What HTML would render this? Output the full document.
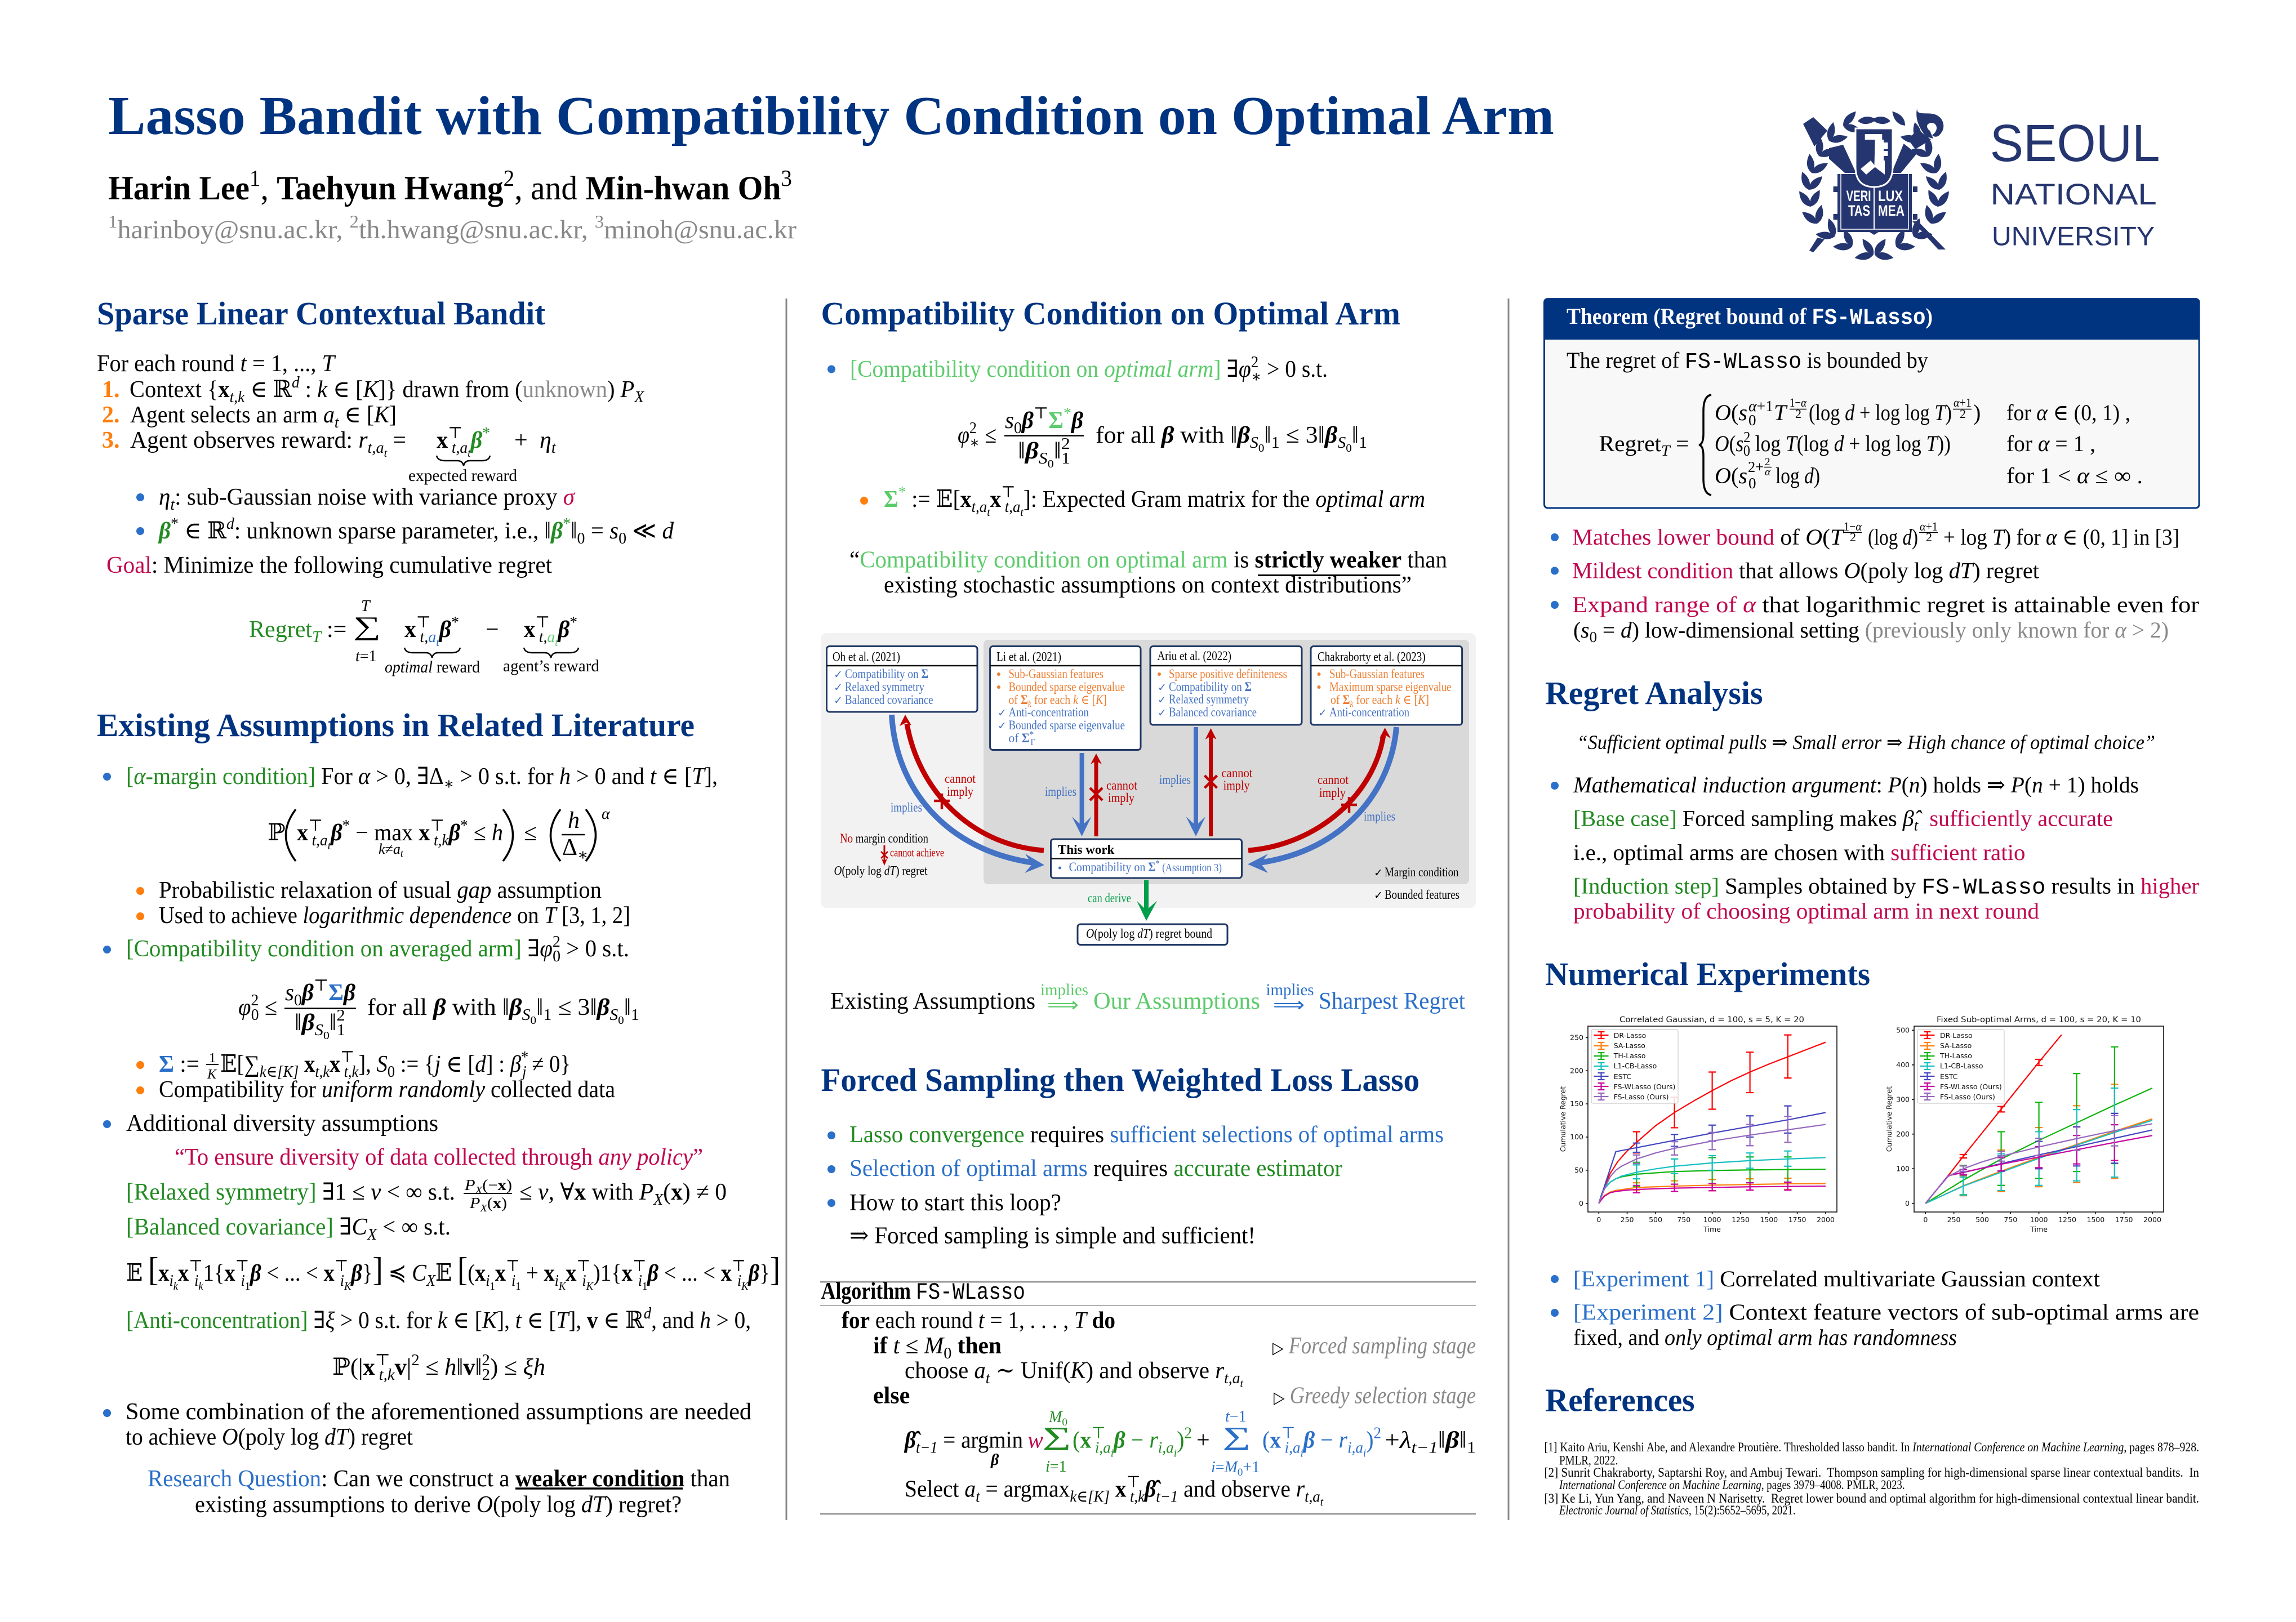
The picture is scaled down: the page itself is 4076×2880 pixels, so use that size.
<!DOCTYPE html>
<html lang="en"><head><meta charset="utf-8"><title>Lasso Bandit with Compatibility Condition on Optimal Arm</title>
<style>
html,body{margin:0;padding:0;background:#fff}
svg{display:block}
text{font-family:"Liberation Serif","DejaVu Serif",serif;font-size:42px;fill:#000;white-space:pre}
.i{font-style:italic}.b{font-weight:bold}.bi{font-weight:bold;font-style:italic}
.m{font-family:"Liberation Mono",monospace}
.mb{font-family:"Liberation Mono",monospace;font-weight:bold}
.sb{font-size:.68em;baseline-shift:-.3em}
.sp{font-size:.68em;baseline-shift:.6em}
.ss{font-size:.48em;baseline-shift:-.8em}
.h{font-weight:bold;fill:#003380;font-size:58px}
.g{fill:#228B22}.lg{fill:#5CCB6B}.bl{fill:#2A6FC9}.o{fill:#FF7F0E}.r{fill:#C0094F}.gy{fill:#888}
.dt{font-size:23px}.db{fill:#4472C4}.do{fill:#ED7D31}.dr{fill:#C00000}.dg{fill:#009E4A}
.ck{font-family:"DejaVu Sans",sans-serif;font-size:19px}
.box{fill:#fff;stroke:#1F3864;stroke-width:3}
.div{stroke:#111;stroke-width:2.5}
.pl path{vector-effect:non-scaling-stroke;fill:none;stroke-width:2.2}
.pt{font-family:"DejaVu Sans",sans-serif;font-size:12.5px;fill:#111}
.pT{font-family:"DejaVu Sans",sans-serif;font-size:14px;fill:#111}
.ax{fill:none;stroke:#111;stroke-width:1.6}
.ref{font-size:23px}
.t40{font-size:40px}
.fr{font-size:22px}
</style></head><body>
<svg width="4076" height="2880" viewBox="0 0 4076 2880" xmlns="http://www.w3.org/2000/svg">
<rect width="4076" height="2880" fill="#fff"/>

<!-- header -->
<text x="192" y="238" class="b" style="font-size:97px;fill:#003380" textLength="2567" lengthAdjust="spacingAndGlyphs">Lasso Bandit with Compatibility Condition on Optimal Arm</text>
<text x="192" y="354" style="font-size:60px" textLength="1214" lengthAdjust="spacingAndGlyphs"><tspan class="b">Harin Lee</tspan><tspan class="sp">1</tspan>, <tspan class="b">Taehyun Hwang</tspan><tspan class="sp">2</tspan>, and <tspan class="b">Min-hwan Oh</tspan><tspan class="sp">3</tspan></text>
<text x="192" y="423" class="gy" style="font-size:47px" textLength="1222" lengthAdjust="spacingAndGlyphs"><tspan class="sp">1</tspan>harinboy@snu.ac.kr, <tspan class="sp">2</tspan>th.hwang@snu.ac.kr, <tspan class="sp">3</tspan>minoh@snu.ac.kr</text>

<!-- logo -->
<g fill="#25356F">
<g>
<path d="M3201 220L3219 208L3244 232L3221 260Z"/>
<path d="M3247 263L3272 257L3295 307L3275 307L3247 282Z"/>
<path d="M3395 393H3405L3454 443H3441Z"/>
<path d="M3379.6 255L3402.6 273L3374.5 307H3358Z"/>
<path d="M3226.5 422L3239 425L3219 448L3212 445Z"/>
<path d="M3405 230L3428 248L3400 265L3387 247Z"/>
<path d="M3404 190C3400 205 3415 200 3430 202C3450 205 3455 225 3446 236C3442 243 3435 245 3430 240C3442 232 3440 218 3428 218C3418 220 3420 228 3426 232L3432 246L3420 243C3408 230 3398 210 3404 190Z"/>
</g>
<g>
<path d="M0 0Q14 -13 34 0Q14 13 0 0Z" transform="translate(3326 452) rotate(-190)"/><path d="M0 0Q14 -13 34 0Q14 13 0 0Z" transform="translate(3326 452) rotate(-125)"/>
<path d="M0 0Q14 -13 34 0Q14 13 0 0Z" transform="translate(3288 438) rotate(-180)"/><path d="M0 0Q14 -13 34 0Q14 13 0 0Z" transform="translate(3288 438) rotate(-115)"/>
<path d="M0 0Q14 -13 34 0Q14 13 0 0Z" transform="translate(3257 420) rotate(-173)"/><path d="M0 0Q14 -13 34 0Q14 13 0 0Z" transform="translate(3257 420) rotate(-108)"/>
<path d="M0 0Q14 -13 34 0Q14 13 0 0Z" transform="translate(3226 397) rotate(-142)"/><path d="M0 0Q14 -13 34 0Q14 13 0 0Z" transform="translate(3226 397) rotate(-77)"/>
<path d="M0 0Q14 -13 34 0Q14 13 0 0Z" transform="translate(3214 367) rotate(-126)"/><path d="M0 0Q14 -13 34 0Q14 13 0 0Z" transform="translate(3214 367) rotate(-61)"/>
<path d="M0 0Q14 -13 34 0Q14 13 0 0Z" transform="translate(3211 337) rotate(-110)"/><path d="M0 0Q14 -13 34 0Q14 13 0 0Z" transform="translate(3211 337) rotate(-45)"/>
<path d="M0 0Q14 -13 34 0Q14 13 0 0Z" transform="translate(3216 307) rotate(-96)"/><path d="M0 0Q14 -13 34 0Q14 13 0 0Z" transform="translate(3216 307) rotate(-31)"/>
<path d="M0 0Q14 -13 34 0Q14 13 0 0Z" transform="translate(3229 277) rotate(-86)"/><path d="M0 0Q14 -13 34 0Q14 13 0 0Z" transform="translate(3229 277) rotate(-21)"/>
<path d="M0 0Q14 -13 34 0Q14 13 0 0Z" transform="translate(3247 250) rotate(-77)"/><path d="M0 0Q14 -13 34 0Q14 13 0 0Z" transform="translate(3247 250) rotate(-12)"/>
<path d="M0 0Q14 -13 34 0Q14 13 0 0Z" transform="translate(3272 223) rotate(-48)"/><path d="M0 0Q14 -13 34 0Q14 13 0 0Z" transform="translate(3272 223) rotate(17)"/>
<path d="M0 0Q14 -13 34 0Q14 13 0 0Z" transform="translate(3298 215) rotate(-5)"/>
</g>
<g transform="translate(6654 0) scale(-1 1)">
<path d="M0 0Q14 -13 34 0Q14 13 0 0Z" transform="translate(3326 452) rotate(-190)"/><path d="M0 0Q14 -13 34 0Q14 13 0 0Z" transform="translate(3326 452) rotate(-125)"/>
<path d="M0 0Q14 -13 34 0Q14 13 0 0Z" transform="translate(3288 438) rotate(-180)"/><path d="M0 0Q14 -13 34 0Q14 13 0 0Z" transform="translate(3288 438) rotate(-115)"/>
<path d="M0 0Q14 -13 34 0Q14 13 0 0Z" transform="translate(3257 420) rotate(-173)"/><path d="M0 0Q14 -13 34 0Q14 13 0 0Z" transform="translate(3257 420) rotate(-108)"/>
<path d="M0 0Q14 -13 34 0Q14 13 0 0Z" transform="translate(3226 397) rotate(-142)"/><path d="M0 0Q14 -13 34 0Q14 13 0 0Z" transform="translate(3226 397) rotate(-77)"/>
<path d="M0 0Q14 -13 34 0Q14 13 0 0Z" transform="translate(3214 367) rotate(-126)"/><path d="M0 0Q14 -13 34 0Q14 13 0 0Z" transform="translate(3214 367) rotate(-61)"/>
<path d="M0 0Q14 -13 34 0Q14 13 0 0Z" transform="translate(3211 337) rotate(-110)"/><path d="M0 0Q14 -13 34 0Q14 13 0 0Z" transform="translate(3211 337) rotate(-45)"/>
<path d="M0 0Q14 -13 34 0Q14 13 0 0Z" transform="translate(3216 307) rotate(-96)"/><path d="M0 0Q14 -13 34 0Q14 13 0 0Z" transform="translate(3216 307) rotate(-31)"/>
<path d="M0 0Q14 -13 34 0Q14 13 0 0Z" transform="translate(3229 277) rotate(-86)"/><path d="M0 0Q14 -13 34 0Q14 13 0 0Z" transform="translate(3229 277) rotate(-21)"/>
<path d="M0 0Q14 -13 34 0Q14 13 0 0Z" transform="translate(3247 250) rotate(-77)"/><path d="M0 0Q14 -13 34 0Q14 13 0 0Z" transform="translate(3247 250) rotate(-12)"/>
<path d="M0 0Q14 -13 34 0Q14 13 0 0Z" transform="translate(3272 223) rotate(-48)"/>
<path d="M0 0Q14 -13 34 0Q14 13 0 0Z" transform="translate(3298 215) rotate(-5)"/>
</g>
<rect x="3254.6" y="331" width="8" height="10"/><rect x="3396" y="331" width="8" height="10"/><rect x="3254.6" y="380" width="8" height="10"/><rect x="3396" y="380" width="8" height="10"/>
<path d="M3262 309H3394V412H3335L3327 417L3319 412H3262Z"/>
<path d="M3268 309V407H3388V309" fill="none" stroke="#fff" stroke-width="1.5"/>
<path d="M3327 332V407" fill="none" stroke="#fff" stroke-width="2"/>
<path d="M3294 228H3360V296Q3360 332 3327 332Q3294 332 3294 296Z" stroke="#fff" stroke-width="3"/>
<path d="M3310.7 238H3341.3V248H3344V253H3351.5V265H3344V268H3351.5V277H3344V285H3346V310L3328.6 296.7L3313 310L3303 300L3321 285L3327.5 293L3328.6 248H3310.7Z" fill="#fff"/>
</g>
<text x="3277.5" y="357" class="b" style="font-size:27px;fill:#fff;font-family:'Liberation Sans',sans-serif" textLength="44" lengthAdjust="spacingAndGlyphs">VERI</text>
<text x="3334" y="357" class="b" style="font-size:27px;fill:#fff;font-family:'Liberation Sans',sans-serif" textLength="44" lengthAdjust="spacingAndGlyphs">LUX</text>
<text x="3281" y="383" class="b" style="font-size:27px;fill:#fff;font-family:'Liberation Sans',sans-serif" textLength="39" lengthAdjust="spacingAndGlyphs">TAS</text>
<text x="3334" y="383" class="b" style="font-size:27px;fill:#fff;font-family:'Liberation Sans',sans-serif" textLength="47" lengthAdjust="spacingAndGlyphs">MEA</text>
<text x="3532.6" y="286" style="font-family:'Liberation Sans',sans-serif;font-size:93px;fill:#25356F" textLength="302" lengthAdjust="spacingAndGlyphs">SEOUL</text>
<text x="3533.7" y="363" style="font-family:'Liberation Sans',sans-serif;font-size:53px;fill:#25356F" textLength="295" lengthAdjust="spacingAndGlyphs">NATIONAL</text>
<text x="3536" y="435.6" style="font-family:'Liberation Sans',sans-serif;font-size:47px;fill:#25356F" textLength="289" lengthAdjust="spacingAndGlyphs">UNIVERSITY</text>

<!-- separators -->
<path d="M1396 530V2699M2678 530V2699" stroke="#8a8a8a" stroke-width="3"/>

<!-- LEFT COLUMN -->
<text x="172" y="576" class="h" textLength="796" lengthAdjust="spacingAndGlyphs">Sparse Linear Contextual Bandit</text>
<text x="172" y="659" textLength="422" lengthAdjust="spacingAndGlyphs">For each round <tspan class="i">t</tspan> = 1, ..., <tspan class="i">T</tspan></text>
<text x="181" y="705" class="b o">1.</text>
<text x="230" y="705" textLength="913" lengthAdjust="spacingAndGlyphs">Context {<tspan class="b">x</tspan><tspan class="sb i">t,k</tspan> ∈ ℝ<tspan class="sp i">d</tspan> : <tspan class="i">k</tspan> ∈ [<tspan class="i">K</tspan>]} drawn from (<tspan class="gy">unknown</tspan>) <tspan class="i">P</tspan><tspan class="sb i">X</tspan></text>
<text x="181" y="750" class="b o">2.</text>
<text x="231" y="750" textLength="473" lengthAdjust="spacingAndGlyphs">Agent selects an arm <tspan class="i">a</tspan><tspan class="sb i">t</tspan> ∈ [<tspan class="i">K</tspan>]</text>
<text x="181" y="795" class="b o">3.</text>
<text x="231" y="795" textLength="490" lengthAdjust="spacingAndGlyphs">Agent observes reward: <tspan class="i">r</tspan><tspan class="sb i">t,a</tspan><tspan class="ss i">t</tspan> =</text>
<text x="775" y="795" textLength="95" lengthAdjust="spacingAndGlyphs"><tspan class="b">x</tspan><tspan class="sp">⊤</tspan><tspan class="sb i" dx="-20">t,a</tspan><tspan class="ss i">t</tspan><tspan class="bi g">β</tspan><tspan class="sp g">*</tspan></text>
<text x="913" y="795">+</text>
<text x="958" y="795"><tspan class="i">η</tspan><tspan class="sb i">t</tspan></text>
<path d="M775 809Q777 818 790 818L812 818Q821 818 823 827Q825 818 834 818L856 818Q868 818 870 809" fill="none" stroke="#000" stroke-width="2.5"/>
<text x="725" y="854" style="font-size:30px" textLength="193" lengthAdjust="spacingAndGlyphs">expected reward</text>
<circle cx="249" cy="883" r="7" fill="#2A6FC9"/>
<text x="282" y="896" textLength="738" lengthAdjust="spacingAndGlyphs"><tspan class="i">η</tspan><tspan class="sb i">t</tspan>: sub-Gaussian noise with variance proxy <tspan class="i r">σ</tspan></text>
<circle cx="249" cy="943" r="7" fill="#2A6FC9"/>
<text x="282" y="956" textLength="914" lengthAdjust="spacingAndGlyphs"><tspan class="bi g">β</tspan><tspan class="sp">*</tspan> ∈ ℝ<tspan class="sp i">d</tspan>: unknown sparse parameter, i.e., ‖<tspan class="bi g">β</tspan><tspan class="sp g">*</tspan>‖<tspan class="sb">0</tspan> = <tspan class="i">s</tspan><tspan class="sb">0</tspan> ≪ <tspan class="i">d</tspan></text>
<text x="189" y="1017" textLength="791" lengthAdjust="spacingAndGlyphs"><tspan class="r">Goal</tspan>: Minimize the following cumulative regret</text>
<text x="442" y="1131" textLength="128" lengthAdjust="spacingAndGlyphs"><tspan class="g">Regret</tspan><tspan class="sb i g">T</tspan></text>
<text x="580" y="1131">:=</text>
<text x="627" y="1127" style="font-size:47px" textLength="49" lengthAdjust="spacingAndGlyphs">∑</text>
<text x="641" y="1085" class="i" style="font-size:28px">T</text>
<text x="631" y="1174" style="font-size:28px"><tspan class="i">t</tspan>=1</text>
<text x="718" y="1131" textLength="97" lengthAdjust="spacingAndGlyphs"><tspan class="b">x</tspan><tspan class="sp">⊤</tspan><tspan class="sb i" dx="-20">t,</tspan><tspan class="sb i bl">a</tspan><tspan class="ss i bl">t</tspan><tspan class="bi">β</tspan><tspan class="sp">*</tspan></text>
<text x="862" y="1131">−</text>
<text x="930" y="1131" textLength="95" lengthAdjust="spacingAndGlyphs"><tspan class="b">x</tspan><tspan class="sp">⊤</tspan><tspan class="sb i" dx="-20">t,</tspan><tspan class="sb i lg">a</tspan><tspan class="ss i lg">t</tspan><tspan class="bi">β</tspan><tspan class="sp">*</tspan></text>
<path d="M718 1150Q720 1159 733 1159L756 1159Q765 1159 767 1168Q769 1159 778 1159L802 1159Q815 1159 817 1150M930 1150Q932 1159 945 1159L967 1159Q976 1159 978 1168Q980 1159 989 1159L1012 1159Q1025 1159 1027 1150" fill="none" stroke="#000" stroke-width="2.5"/>
<text x="683" y="1194" style="font-size:30px" textLength="169" lengthAdjust="spacingAndGlyphs"><tspan class="i">optimal</tspan> reward</text>
<text x="893" y="1192" style="font-size:30px" textLength="171" lengthAdjust="spacingAndGlyphs">agent’s reward</text>

<text x="172" y="1307" class="h" textLength="1061" lengthAdjust="spacingAndGlyphs">Existing Assumptions in Related Literature</text>
<circle cx="190" cy="1379" r="7" fill="#2A6FC9"/>
<text x="224" y="1392" textLength="1050" lengthAdjust="spacingAndGlyphs"><tspan class="g">[<tspan class="i">α</tspan>-margin condition]</tspan> For <tspan class="i">α</tspan> &gt; 0, ∃Δ<tspan class="sb">∗</tspan> &gt; 0 s.t. for <tspan class="i">h</tspan> &gt; 0 and <tspan class="i">t</tspan> ∈ [<tspan class="i">T</tspan>],</text>
<text x="475" y="1492">ℙ</text>
<path d="M525 1437Q490 1483 525 1529M893 1437Q928 1483 893 1529M995 1437Q960 1483 995 1529M1040 1437Q1075 1483 1040 1529" fill="none" stroke="#000" stroke-width="3.5"/>
<text x="527" y="1492" textLength="366" lengthAdjust="spacingAndGlyphs"><tspan class="b">x</tspan><tspan class="sp">⊤</tspan><tspan class="sb i" dx="-20">t,a</tspan><tspan class="ss i">t</tspan><tspan class="bi">β</tspan><tspan class="sp">*</tspan> − max <tspan class="b">x</tspan><tspan class="sp">⊤</tspan><tspan class="sb i" dx="-20">t,k</tspan><tspan class="bi">β</tspan><tspan class="sp">*</tspan> ≤ <tspan class="i">h</tspan></text>
<text x="672" y="1516" style="font-size:26px"><tspan class="i">k</tspan>≠<tspan class="i">a</tspan><tspan class="sb i">t</tspan></text>
<text x="930" y="1492">≤</text>
<text x="1008" y="1470" class="i">h</text>
<path d="M997 1482H1038" stroke="#000" stroke-width="2.5"/>
<text x="998" y="1518">Δ<tspan class="sb">∗</tspan></text>
<text x="1068" y="1454" class="i" style="font-size:28px">α</text>
<circle cx="249" cy="1582" r="7" fill="#FF7F0E"/>
<text x="282" y="1594" textLength="786" lengthAdjust="spacingAndGlyphs">Probabilistic relaxation of usual <tspan class="i">gap</tspan> assumption</text>
<circle cx="249" cy="1627" r="7" fill="#FF7F0E"/>
<text x="282" y="1639" textLength="837" lengthAdjust="spacingAndGlyphs">Used to achieve <tspan class="i">logarithmic dependence</tspan> on <tspan class="i">T</tspan> [3, 1, 2]</text>
<circle cx="190" cy="1686" r="7" fill="#2A6FC9"/>
<text x="224" y="1698" textLength="893" lengthAdjust="spacingAndGlyphs"><tspan class="g">[Compatibility condition on averaged arm]</tspan> ∃<tspan class="i">φ</tspan><tspan class="sp">2</tspan><tspan class="sb" dx="-14">0</tspan> &gt; 0 s.t.</text>
<text x="423" y="1802" textLength="69" lengthAdjust="spacingAndGlyphs"><tspan class="i">φ</tspan><tspan class="sp">2</tspan><tspan class="sb" dx="-14">0</tspan> ≤</text>
<text x="506" y="1776" textLength="125" lengthAdjust="spacingAndGlyphs"><tspan class="i">s</tspan><tspan class="sb">0</tspan><tspan class="bi">β</tspan><tspan class="sp">⊤</tspan><tspan class="b bl">Σ</tspan><tspan class="bi">β</tspan></text>
<path d="M505 1790.5H632" stroke="#000" stroke-width="2.5"/>
<text x="523" y="1829" textLength="90" lengthAdjust="spacingAndGlyphs">‖<tspan class="bi">β</tspan><tspan class="sb i">S</tspan><tspan class="ss">0</tspan>‖<tspan class="sp">2</tspan><tspan class="sb" dx="-14">1</tspan></text>
<text x="652" y="1802" textLength="483" lengthAdjust="spacingAndGlyphs">for all <tspan class="bi">β</tspan> with ‖<tspan class="bi">β</tspan><tspan class="sb i">S</tspan><tspan class="ss">0</tspan>‖<tspan class="sb">1</tspan> ≤ 3‖<tspan class="bi">β</tspan><tspan class="sb i">S</tspan><tspan class="ss">0</tspan>‖<tspan class="sb">1</tspan></text>
<circle cx="249" cy="1891" r="7" fill="#FF7F0E"/>
<text x="282" y="1903" textLength="72" lengthAdjust="spacingAndGlyphs"><tspan class="b bl">Σ</tspan> :=</text>
<text x="371" y="1886" style="font-size:24px">1</text>
<path d="M366 1890H388" stroke="#000" stroke-width="2"/>
<text x="368" y="1915" class="i" style="font-size:24px">K</text>
<text x="391" y="1903" textLength="622" lengthAdjust="spacingAndGlyphs">𝔼[∑<tspan class="sb i">k∈[K]</tspan> <tspan class="b">x</tspan><tspan class="sb i">t,k</tspan><tspan class="b">x</tspan><tspan class="sp">⊤</tspan><tspan class="sb i" dx="-20">t,k</tspan>], <tspan class="i">S</tspan><tspan class="sb">0</tspan> := {<tspan class="i">j</tspan> ∈ [<tspan class="i">d</tspan>] : <tspan class="i">β</tspan><tspan class="sp">*</tspan><tspan class="sb i" dx="-12">j</tspan> ≠ 0}</text>
<circle cx="249" cy="1936" r="7" fill="#FF7F0E"/>
<text x="282" y="1948" textLength="810" lengthAdjust="spacingAndGlyphs">Compatibility for <tspan class="i">uniform randomly</tspan> collected data</text>
<circle cx="190" cy="1996" r="7" fill="#2A6FC9"/>
<text x="224" y="2008" textLength="554" lengthAdjust="spacingAndGlyphs">Additional diversity assumptions</text>
<text x="310" y="2068" class="r" textLength="938" lengthAdjust="spacingAndGlyphs">“To ensure diversity of data collected through <tspan class="i">any policy</tspan>”</text>
<text x="224" y="2130" textLength="584" lengthAdjust="spacingAndGlyphs"><tspan class="g">[Relaxed symmetry]</tspan> ∃1 ≤ <tspan class="i">ν</tspan> &lt; ∞ s.t.</text>
<text x="825" y="2113" style="font-size:27px" textLength="84" lengthAdjust="spacingAndGlyphs"><tspan class="i">P</tspan><tspan class="sb i">X</tspan>(−<tspan class="b">x</tspan>)</text>
<path d="M823 2119H909" stroke="#000" stroke-width="2"/>
<text x="834" y="2145" style="font-size:27px" textLength="66" lengthAdjust="spacingAndGlyphs"><tspan class="i">P</tspan><tspan class="sb i">X</tspan>(<tspan class="b">x</tspan>)</text>
<text x="922" y="2130" textLength="368" lengthAdjust="spacingAndGlyphs">≤ <tspan class="i">ν</tspan>, ∀<tspan class="b">x</tspan> with <tspan class="i">P</tspan><tspan class="sb i">X</tspan>(<tspan class="b">x</tspan>) ≠ 0</text>
<text x="224" y="2192" textLength="576" lengthAdjust="spacingAndGlyphs"><tspan class="g">[Balanced covariance]</tspan> ∃<tspan class="i">C</tspan><tspan class="sb i">X</tspan> &lt; ∞ s.t.</text>
<text x="224" y="2274" textLength="1161" lengthAdjust="spacingAndGlyphs">𝔼 <tspan style="font-size:60px">[</tspan><tspan class="b">x</tspan><tspan class="sb i">i</tspan><tspan class="ss i">k</tspan><tspan class="b">x</tspan><tspan class="sp">⊤</tspan><tspan class="sb i" dx="-16">i</tspan><tspan class="ss i">k</tspan>1{<tspan class="b">x</tspan><tspan class="sp">⊤</tspan><tspan class="sb i" dx="-16">i</tspan><tspan class="ss">1</tspan><tspan class="bi">β</tspan> &lt; ... &lt; <tspan class="b">x</tspan><tspan class="sp">⊤</tspan><tspan class="sb i" dx="-16">i</tspan><tspan class="ss i">K</tspan><tspan class="bi">β</tspan>}<tspan style="font-size:60px">]</tspan> ≼ <tspan class="i">C</tspan><tspan class="sb i">X</tspan>𝔼 <tspan style="font-size:60px">[</tspan>(<tspan class="b">x</tspan><tspan class="sb i">i</tspan><tspan class="ss">1</tspan><tspan class="b">x</tspan><tspan class="sp">⊤</tspan><tspan class="sb i" dx="-16">i</tspan><tspan class="ss">1</tspan> + <tspan class="b">x</tspan><tspan class="sb i">i</tspan><tspan class="ss i">K</tspan><tspan class="b">x</tspan><tspan class="sp">⊤</tspan><tspan class="sb i" dx="-16">i</tspan><tspan class="ss i">K</tspan>)1{<tspan class="b">x</tspan><tspan class="sp">⊤</tspan><tspan class="sb i" dx="-16">i</tspan><tspan class="ss">1</tspan><tspan class="bi">β</tspan> &lt; ... &lt; <tspan class="b">x</tspan><tspan class="sp">⊤</tspan><tspan class="sb i" dx="-16">i</tspan><tspan class="ss i">K</tspan><tspan class="bi">β</tspan>}<tspan style="font-size:60px">]</tspan></text>
<text x="224" y="2358" textLength="1109" lengthAdjust="spacingAndGlyphs"><tspan class="g">[Anti-concentration]</tspan> ∃<tspan class="i">ξ</tspan> &gt; 0 s.t. for <tspan class="i">k</tspan> ∈ [<tspan class="i">K</tspan>], <tspan class="i">t</tspan> ∈ [<tspan class="i">T</tspan>], <tspan class="b">v</tspan> ∈ ℝ<tspan class="sp i">d</tspan>, and <tspan class="i">h</tspan> &gt; 0,</text>
<text x="590" y="2441" textLength="378" lengthAdjust="spacingAndGlyphs">ℙ(|<tspan class="b">x</tspan><tspan class="sp">⊤</tspan><tspan class="sb i" dx="-20">t,k</tspan><tspan class="b">v</tspan>|<tspan class="sp">2</tspan> ≤ <tspan class="i">h</tspan>‖<tspan class="b">v</tspan>‖<tspan class="sp">2</tspan><tspan class="sb" dx="-14">2</tspan>) ≤ <tspan class="i">ξh</tspan></text>
<circle cx="190" cy="2509" r="7" fill="#2A6FC9"/>
<text x="223" y="2520" textLength="1111" lengthAdjust="spacingAndGlyphs">Some combination of the aforementioned assumptions are needed</text>
<text x="223" y="2565" textLength="510" lengthAdjust="spacingAndGlyphs">to achieve <tspan class="i">O</tspan>(poly log <tspan class="i">dT</tspan>) regret</text>
<text x="262" y="2639" textLength="1034" lengthAdjust="spacingAndGlyphs"><tspan class="bl">Research Question</tspan>: Can we construct a <tspan class="b">weaker condition</tspan> than</text>
<path d="M915 2643H1212" stroke="#000" stroke-width="3.5"/>
<text x="346" y="2685" textLength="864" lengthAdjust="spacingAndGlyphs">existing assumptions to derive <tspan class="i">O</tspan>(poly log <tspan class="i">dT</tspan>) regret?</text>

<!-- MIDDLE COLUMN -->
<text x="1457.5" y="576" class="h" textLength="1028.5" lengthAdjust="spacingAndGlyphs">Compatibility Condition on Optimal Arm</text>
<circle cx="1476" cy="655.5" r="7" fill="#2A6FC9"/>
<text x="1509" y="669" textLength="848" lengthAdjust="spacingAndGlyphs"><tspan class="lg">[Compatibility condition on <tspan class="i">optimal arm</tspan>]</tspan> ∃<tspan class="i">φ</tspan><tspan class="sp">2</tspan><tspan class="sb" dx="-14">∗</tspan> &gt; 0 s.t.</text>
<text x="1700" y="786" textLength="69" lengthAdjust="spacingAndGlyphs"><tspan class="i">φ</tspan><tspan class="sp">2</tspan><tspan class="sb" dx="-14">∗</tspan> ≤</text>
<text x="1784" y="760" textLength="139" lengthAdjust="spacingAndGlyphs"><tspan class="i">s</tspan><tspan class="sb">0</tspan><tspan class="bi">β</tspan><tspan class="sp">⊤</tspan><tspan class="b lg">Σ</tspan><tspan class="sp lg">*</tspan><tspan class="bi">β</tspan></text>
<path d="M1783 773.6H1924" stroke="#000" stroke-width="2.5"/>
<text x="1807" y="814" textLength="93" lengthAdjust="spacingAndGlyphs">‖<tspan class="bi">β</tspan><tspan class="sb i">S</tspan><tspan class="ss">0</tspan>‖<tspan class="sp">2</tspan><tspan class="sb" dx="-14">1</tspan></text>
<text x="1945" y="786" textLength="482" lengthAdjust="spacingAndGlyphs">for all <tspan class="bi">β</tspan> with ‖<tspan class="bi">β</tspan><tspan class="sb i">S</tspan><tspan class="ss">0</tspan>‖<tspan class="sb">1</tspan> ≤ 3‖<tspan class="bi">β</tspan><tspan class="sb i">S</tspan><tspan class="ss">0</tspan>‖<tspan class="sb">1</tspan></text>
<circle cx="1534" cy="889" r="7" fill="#FF7F0E"/>
<text x="1569" y="900" textLength="961" lengthAdjust="spacingAndGlyphs"><tspan class="b lg">Σ</tspan><tspan class="sp lg">*</tspan> := 𝔼[<tspan class="b">x</tspan><tspan class="sb i">t,a</tspan><tspan class="ss i">t</tspan><tspan class="b">x</tspan><tspan class="sp">⊤</tspan><tspan class="sb i" dx="-20">t,a</tspan><tspan class="ss i">t</tspan>]: Expected Gram matrix for the <tspan class="i">optimal arm</tspan></text>
<text x="1508" y="1007.5" textLength="1061" lengthAdjust="spacingAndGlyphs">“<tspan class="lg">Compatibility condition on optimal arm</tspan> is <tspan class="b">strictly weaker</tspan> than</text>
<path d="M2233 1021.5H2486" stroke="#000" stroke-width="3"/>
<text x="1569" y="1052" textLength="937" lengthAdjust="spacingAndGlyphs">existing stochastic assumptions on context distributions”</text>

<!-- diagram -->
<rect x="1457" y="1124" width="1163" height="488" rx="10" fill="#F2F2F2"/>
<rect x="1746" y="1136" width="862" height="434" rx="8" fill="#D9D9D9"/>
<rect class="box" x="1467.5" y="1147.5" width="267.5" height="116.5" rx="5"/><path class="div" d="M1467.5 1182H1735"/>
<rect class="box" x="1757.6" y="1147.5" width="267.4" height="184" rx="5"/><path class="div" d="M1757.6 1182H2025"/>
<rect class="box" x="2042" y="1147.5" width="269" height="139.5" rx="5"/><path class="div" d="M2042 1182H2311"/>
<rect class="box" x="2327" y="1147.5" width="268.6" height="139.5" rx="5"/><path class="div" d="M2327 1182H2595.6"/>
<rect class="box" x="1865.5" y="1490" width="339" height="69" rx="5"/><path class="div" d="M1865.5 1524.5H2204.5"/>
<rect class="box" x="1913" y="1641" width="266" height="36.5" rx="5"/>

<text x="1478" y="1173.5" class="dt" textLength="120" lengthAdjust="spacingAndGlyphs">Oh et al. (2021)</text>
<text x="1480" y="1204" class="ck db">✓</text><text x="1500" y="1204" class="dt db" textLength="148" lengthAdjust="spacingAndGlyphs">Compatibility on <tspan class="b">Σ</tspan></text>
<text x="1480" y="1227" class="ck db">✓</text><text x="1500" y="1227" class="dt db" textLength="141" lengthAdjust="spacingAndGlyphs">Relaxed symmetry</text>
<text x="1480" y="1250" class="ck db">✓</text><text x="1500" y="1250" class="dt db" textLength="156.6" lengthAdjust="spacingAndGlyphs">Balanced covariance</text>

<text x="1769" y="1173.5" class="dt" textLength="115" lengthAdjust="spacingAndGlyphs">Li et al. (2021)</text>
<circle cx="1773" cy="1197" r="3" fill="#ED7D31"/><text x="1790.5" y="1204" class="dt do" textLength="168.5" lengthAdjust="spacingAndGlyphs">Sub-Gaussian features</text>
<circle cx="1773" cy="1220" r="3" fill="#ED7D31"/><text x="1790.5" y="1227" class="dt do" textLength="206.5" lengthAdjust="spacingAndGlyphs">Bounded sparse eigenvalue</text>
<text x="1790.5" y="1250" class="dt do" textLength="174.5" lengthAdjust="spacingAndGlyphs">of <tspan class="b">Σ</tspan><tspan class="sb i">k</tspan> for each <tspan class="i">k</tspan> ∈ [<tspan class="i">K</tspan>]</text>
<text x="1771" y="1272" class="ck db">✓</text><text x="1790.5" y="1272" class="dt db" textLength="142.5" lengthAdjust="spacingAndGlyphs">Anti-concentration</text>
<text x="1771" y="1295" class="ck db">✓</text><text x="1790.5" y="1295" class="dt db" textLength="206.5" lengthAdjust="spacingAndGlyphs">Bounded sparse eigenvalue</text>
<text x="1790.5" y="1318" class="dt db" textLength="47.5" lengthAdjust="spacingAndGlyphs">of <tspan class="b">Σ</tspan><tspan class="sp">*</tspan><tspan class="sb" dx="-6">Γ</tspan></text>

<text x="2054.5" y="1172" class="dt" textLength="131.5" lengthAdjust="spacingAndGlyphs">Ariu et al. (2022)</text>
<circle cx="2058" cy="1197" r="3" fill="#ED7D31"/><text x="2075" y="1204" class="dt do" textLength="210" lengthAdjust="spacingAndGlyphs">Sparse positive definiteness</text>
<text x="2055" y="1227" class="ck db">✓</text><text x="2075" y="1227" class="dt db" textLength="147" lengthAdjust="spacingAndGlyphs">Compatibility on <tspan class="b">Σ</tspan></text>
<text x="2055" y="1249" class="ck db">✓</text><text x="2075" y="1249" class="dt db" textLength="142" lengthAdjust="spacingAndGlyphs">Relaxed symmetry</text>
<text x="2055" y="1272" class="ck db">✓</text><text x="2075" y="1272" class="dt db" textLength="156" lengthAdjust="spacingAndGlyphs">Balanced covariance</text>

<text x="2339" y="1173.5" class="dt" textLength="191.5" lengthAdjust="spacingAndGlyphs">Chakraborty et al. (2023)</text>
<circle cx="2341.5" cy="1197" r="3" fill="#ED7D31"/><text x="2360" y="1204" class="dt do" textLength="169" lengthAdjust="spacingAndGlyphs">Sub-Gaussian features</text>
<circle cx="2341.5" cy="1220" r="3" fill="#ED7D31"/><text x="2360" y="1227" class="dt do" textLength="216.5" lengthAdjust="spacingAndGlyphs">Maximum sparse eigenvalue</text>
<text x="2362" y="1250" class="dt do" textLength="175" lengthAdjust="spacingAndGlyphs">of <tspan class="b">Σ</tspan><tspan class="sb i">k</tspan> for each <tspan class="i">k</tspan> ∈ [<tspan class="i">K</tspan>]</text>
<text x="2340" y="1272" class="ck db">✓</text><text x="2360" y="1272" class="dt db" textLength="142" lengthAdjust="spacingAndGlyphs">Anti-concentration</text>

<text x="1878" y="1516" class="dt b">This work</text>
<circle cx="1881.5" cy="1541" r="2.5" fill="#4472C4"/>
<text x="1897.6" y="1547" class="dt db" textLength="271.4" lengthAdjust="spacingAndGlyphs">Compatibility on <tspan class="b">Σ</tspan><tspan class="sp">*</tspan> <tspan style="font-size:.85em">(Assumption 3)</tspan></text>
<text x="1928" y="1665" class="dt" textLength="224" lengthAdjust="spacingAndGlyphs"><tspan class="i">O</tspan>(poly log <tspan class="i">dT</tspan>) regret bound</text>

<!-- arrows -->
<g fill="none" stroke-linecap="butt">
<path d="M1583 1269C1590 1400 1680 1510 1835 1532" stroke="#4472C4" stroke-width="10"/>
<path d="M2479 1291C2470 1400 2390 1510 2235 1532" stroke="#4472C4" stroke-width="10"/>
<path d="M1853 1510C1720 1500 1630 1400 1610 1285" stroke="#C00000" stroke-width="9"/>
<path d="M2216 1510C2340 1500 2440 1410 2456 1305" stroke="#C00000" stroke-width="9"/>
<path d="M1920.6 1337V1470M2123 1291V1470" stroke="#4472C4" stroke-width="8"/>
<path d="M1946 1485V1350M2149.5 1485V1305" stroke="#C00000" stroke-width="7"/>
<path d="M2035 1563V1620" stroke="#009E4A" stroke-width="8"/>
<path d="M1570 1501V1528" stroke="#C00000" stroke-width="3"/>
<path d="M1658 1422H1686M1672 1409V1437M2381 1429H2409M2395 1415V1443" stroke="#C00000" stroke-width="4.5"/>
<path d="M1935 1399L1957 1421M1957 1399L1935 1421M2138.5 1377L2160.5 1399M2160.5 1377L2138.5 1399" stroke="#C00000" stroke-width="4.5"/>
<path d="M1564 1512L1576 1524M1576 1512L1564 1524" stroke="#C00000" stroke-width="2.5"/>
</g>
<path d="M1854 1536L1819 1550L1832 1535L1820 1516Z" fill="#4472C4"/>
<path d="M2215 1534.5L2251 1550L2238 1533L2251 1516Z" fill="#4472C4"/>
<path d="M1607 1269L1597 1289L1609 1283L1618 1288Z" fill="#C00000"/>
<path d="M2458.6 1292L2449 1311L2459 1305L2469 1311Z" fill="#C00000"/>
<path d="M1920.6 1485L1903 1450L1920.6 1466L1937.5 1450Z" fill="#4472C4"/>
<path d="M2123 1485L2105.5 1450L2123 1466L2140 1450Z" fill="#4472C4"/>
<path d="M1946 1338L1936 1357L1946 1351L1956 1357Z" fill="#C00000"/>
<path d="M2149.5 1293L2139.5 1313L2149.5 1307L2159.5 1313Z" fill="#C00000"/>
<path d="M2035 1635L2018 1599.5L2035 1616L2054 1599.5Z" fill="#009E4A"/>
<path d="M1570 1537L1565 1525L1570 1528L1575 1525Z" fill="#C00000"/>

<text x="1581" y="1441" class="dt db" textLength="56" lengthAdjust="spacingAndGlyphs">implies</text>
<text x="1677" y="1390" class="dt dr" textLength="55" lengthAdjust="spacingAndGlyphs">cannot</text>
<text x="1681" y="1413" class="dt dr" textLength="47" lengthAdjust="spacingAndGlyphs">imply</text>
<text x="1855" y="1413" class="dt db" textLength="56" lengthAdjust="spacingAndGlyphs">implies</text>
<text x="1964" y="1402" class="dt dr" textLength="55" lengthAdjust="spacingAndGlyphs">cannot</text>
<text x="1967" y="1424" class="dt dr" textLength="47" lengthAdjust="spacingAndGlyphs">imply</text>
<text x="2058" y="1392" class="dt db" textLength="56" lengthAdjust="spacingAndGlyphs">implies</text>
<text x="2168.5" y="1380" class="dt dr" textLength="55" lengthAdjust="spacingAndGlyphs">cannot</text>
<text x="2171.6" y="1402" class="dt dr" textLength="47" lengthAdjust="spacingAndGlyphs">imply</text>
<text x="2339" y="1392" class="dt dr" textLength="55" lengthAdjust="spacingAndGlyphs">cannot</text>
<text x="2342" y="1415" class="dt dr" textLength="47" lengthAdjust="spacingAndGlyphs">imply</text>
<text x="2421" y="1457" class="dt db" textLength="56" lengthAdjust="spacingAndGlyphs">implies</text>
<text x="1931" y="1602" class="dt dg" textLength="77" lengthAdjust="spacingAndGlyphs">can derive</text>
<text x="2439" y="1556" class="ck">✓</text><text x="2458" y="1556" class="dt" textLength="131.5" lengthAdjust="spacingAndGlyphs">Margin condition</text>
<text x="2439" y="1596" class="ck">✓</text><text x="2458" y="1596" class="dt" textLength="133" lengthAdjust="spacingAndGlyphs">Bounded features</text>
<text x="1491" y="1496" class="dt" textLength="157" lengthAdjust="spacingAndGlyphs"><tspan class="dr">No</tspan> margin condition</text>
<text x="1580" y="1520.6" class="dr" style="font-size:20px" textLength="96" lengthAdjust="spacingAndGlyphs">cannot achieve</text>
<text x="1480.5" y="1553.5" class="dt" textLength="166" lengthAdjust="spacingAndGlyphs"><tspan class="i">O</tspan>(poly log <tspan class="i">dT</tspan>) regret</text>

<text x="1474" y="1791" textLength="364" lengthAdjust="spacingAndGlyphs">Existing Assumptions</text>
<text x="1847" y="1767" class="lg" style="font-size:30px" textLength="85" lengthAdjust="spacingAndGlyphs">implies</text>
<text x="1859" y="1796" class="lg" style="font-family:'DejaVu Sans',sans-serif;font-size:36px" textLength="56" lengthAdjust="spacingAndGlyphs">⟹</text>
<text x="1941" y="1791" class="lg" textLength="296" lengthAdjust="spacingAndGlyphs">Our Assumptions</text>
<text x="2247.5" y="1767" class="bl" style="font-size:30px" textLength="85" lengthAdjust="spacingAndGlyphs">implies</text>
<text x="2260" y="1796" class="bl" style="font-family:'DejaVu Sans',sans-serif;font-size:36px" textLength="56" lengthAdjust="spacingAndGlyphs">⟹</text>
<text x="2341" y="1791" class="bl" textLength="260" lengthAdjust="spacingAndGlyphs">Sharpest Regret</text>

<text x="1457.5" y="1937" class="h" textLength="1062.5" lengthAdjust="spacingAndGlyphs">Forced Sampling then Weighted Loss Lasso</text>
<circle cx="1476" cy="2016" r="7" fill="#2A6FC9"/>
<text x="1508" y="2028" textLength="1055" lengthAdjust="spacingAndGlyphs"><tspan class="g">Lasso convergence</tspan> requires <tspan class="bl">sufficient selections of optimal arms</tspan></text>
<circle cx="1476" cy="2076" r="7" fill="#2A6FC9"/>
<text x="1508" y="2088" textLength="875" lengthAdjust="spacingAndGlyphs"><tspan class="bl">Selection of optimal arms</tspan> requires <tspan class="g">accurate estimator</tspan></text>
<circle cx="1476" cy="2136" r="7" fill="#2A6FC9"/>
<text x="1508" y="2149" textLength="376" lengthAdjust="spacingAndGlyphs">How to start this loop?</text>
<text x="1508" y="2207.6" textLength="721" lengthAdjust="spacingAndGlyphs">⇒ Forced sampling is simple and sufficient!</text>

<path d="M1456 2276H2620M1456 2688H2620" stroke="#999" stroke-width="3"/>
<path d="M1456 2318H2620" stroke="#999" stroke-width="1.5"/>
<text x="1457.5" y="2306" textLength="362.5" lengthAdjust="spacingAndGlyphs"><tspan class="b">Algorithm</tspan> <tspan class="m">FS-WLasso</tspan></text>
<text x="1494" y="2358" textLength="486" lengthAdjust="spacingAndGlyphs"><tspan class="b">for</tspan> each round <tspan class="i">t</tspan> = 1, . . . , <tspan class="i">T</tspan> <tspan class="b">do</tspan></text>
<text x="1550" y="2403" textLength="228" lengthAdjust="spacingAndGlyphs"><tspan class="b">if</tspan> <tspan class="i">t</tspan> ≤ <tspan class="i">M</tspan><tspan class="sb">0</tspan> <tspan class="b">then</tspan></text>
<text x="2259" y="2403" class="gy" textLength="361" lengthAdjust="spacingAndGlyphs"><tspan style="fill:#000;font-size:.7em">▷</tspan> <tspan class="i">Forced sampling stage</tspan></text>
<text x="1606" y="2447" textLength="601" lengthAdjust="spacingAndGlyphs">choose <tspan class="i">a</tspan><tspan class="sb i">t</tspan> ∼ Unif(<tspan class="i">K</tspan>) and observe <tspan class="i">r</tspan><tspan class="sb i">t,a</tspan><tspan class="ss i">t</tspan></text>
<text x="1550" y="2491.5" class="b">else</text>
<text x="2261" y="2491.5" class="gy" textLength="359" lengthAdjust="spacingAndGlyphs"><tspan style="fill:#000;font-size:.7em">▷</tspan> <tspan class="i">Greedy selection stage</tspan></text>
<text x="1606" y="2570.5" textLength="210" lengthAdjust="spacingAndGlyphs"><tspan class="bi">β̂</tspan><tspan class="sb i">t−1</tspan> = argmin</text>
<text x="1759" y="2601" class="bi" style="font-size:28px">β</text>
<text x="1824" y="2570.5" class="i r">w</text>
<text x="1851" y="2565" class="g" style="font-size:45px;stroke:#228B22;stroke-width:.8" textLength="50" lengthAdjust="spacingAndGlyphs">∑</text>
<text x="1862" y="2525" class="i g" style="font-size:28px">M<tspan class="sb" style="font-style:normal">0</tspan></text>
<text x="1856" y="2613" class="g" style="font-size:28px"><tspan class="i">i</tspan>=1</text>
<text x="1904" y="2570.5" class="g" textLength="212" lengthAdjust="spacingAndGlyphs">(<tspan class="b">x</tspan><tspan class="sp">⊤</tspan><tspan class="sb i" dx="-20">i,a</tspan><tspan class="ss i">i</tspan><tspan class="bi">β</tspan> − <tspan class="i">r</tspan><tspan class="sb i">i,a</tspan><tspan class="ss i">i</tspan>)<tspan class="sp">2</tspan></text>
<text x="2124" y="2570.5">+</text>
<text x="2171" y="2565" class="bl" style="font-size:45px;stroke:#2A6FC9;stroke-width:.8" textLength="49" lengthAdjust="spacingAndGlyphs">∑</text>
<text x="2175" y="2524" class="bl" style="font-size:28px"><tspan class="i">t</tspan>−1</text>
<text x="2150" y="2614" class="bl" style="font-size:28px"><tspan class="i">i</tspan>=<tspan class="i">M</tspan><tspan class="sb">0</tspan>+1</text>
<text x="2241" y="2570.5" class="bl" textLength="211" lengthAdjust="spacingAndGlyphs">(<tspan class="b">x</tspan><tspan class="sp">⊤</tspan><tspan class="sb i" dx="-20">i,a</tspan><tspan class="ss i">i</tspan><tspan class="bi">β</tspan> − <tspan class="i">r</tspan><tspan class="sb i">i,a</tspan><tspan class="ss i">i</tspan>)<tspan class="sp">2</tspan></text>
<text x="2458" y="2570.5" textLength="162" lengthAdjust="spacingAndGlyphs">+<tspan class="i">λ</tspan><tspan class="sb i">t−1</tspan>‖<tspan class="bi">β</tspan>‖<tspan class="sb">1</tspan></text>
<text x="1606" y="2657.6" textLength="743" lengthAdjust="spacingAndGlyphs">Select <tspan class="i">a</tspan><tspan class="sb i">t</tspan> = argmax<tspan class="sb i">k∈[K]</tspan> <tspan class="b">x</tspan><tspan class="sp">⊤</tspan><tspan class="sb i" dx="-20">t,k</tspan><tspan class="bi">β̂</tspan><tspan class="sb i">t−1</tspan> and observe <tspan class="i">r</tspan><tspan class="sb i">t,a</tspan><tspan class="ss i">t</tspan></text>

<!-- RIGHT COLUMN -->
<rect x="2741.5" y="530.6" width="1162.5" height="371.4" rx="6" fill="#F8F8F8" stroke="#003380" stroke-width="3"/>
<path d="M2741.5 603V536.6Q2741.5 530.6 2747.5 530.6H3898Q3904 530.6 3904 536.6V603Z" fill="#003380"/>
<text x="2781" y="575" class="b t40" style="fill:#fff" textLength="650" lengthAdjust="spacingAndGlyphs">Theorem (Regret bound of <tspan class="mb" style="fill:#fff">FS-WLasso</tspan>)</text>
<text x="2781" y="653" class="t40" textLength="642" lengthAdjust="spacingAndGlyphs">The regret of <tspan class="m">FS-WLasso</tspan> is bounded by</text>
<text x="2838.5" y="801" class="t40" textLength="160" lengthAdjust="spacingAndGlyphs">Regret<tspan class="sb i">T</tspan> =</text>
<path d="M3038 701Q3024 703 3024 730V770Q3024 789 3016 790Q3024 791 3024 810V850Q3024 877 3038 879" fill="none" stroke="#000" stroke-width="3.5"/>
<!-- case 1 -->
<text x="3044" y="746" class="t40" textLength="58" lengthAdjust="spacingAndGlyphs"><tspan class="i">O</tspan>(<tspan class="i">s</tspan></text>
<text x="3104" y="730" style="font-size:27px" textLength="44" lengthAdjust="spacingAndGlyphs"><tspan class="i">α</tspan>+1</text>
<text x="3104" y="755" style="font-size:27px">0</text>
<text x="3149" y="746" class="t40 i">T</text>
<text x="3177" y="722" class="fr" textLength="30" lengthAdjust="spacingAndGlyphs">1−<tspan class="i">α</tspan></text>
<path d="M3177 726.5H3207M3467 726.5H3500" stroke="#000" stroke-width="1.6"/>
<text x="3187" y="742" class="fr">2</text>
<text x="3211" y="746" class="t40" textLength="254" lengthAdjust="spacingAndGlyphs">(log <tspan class="i">d</tspan> + log log <tspan class="i">T</tspan>)</text>
<text x="3468" y="722" class="fr" textLength="32" lengthAdjust="spacingAndGlyphs"><tspan class="i">α</tspan>+1</text>
<text x="3479" y="742" class="fr">2</text>
<text x="3503" y="746" class="t40">)</text>
<text x="3562" y="746" class="t40" textLength="220" lengthAdjust="spacingAndGlyphs">for <tspan class="i">α</tspan> ∈ (0, 1) ,</text>
<!-- case 2 -->
<text x="3044" y="801" class="t40" textLength="419" lengthAdjust="spacingAndGlyphs"><tspan class="i">O</tspan>(<tspan class="i">s</tspan><tspan class="sp">2</tspan><tspan class="sb" dx="-14">0</tspan> log <tspan class="i">T</tspan>(log <tspan class="i">d</tspan> + log log <tspan class="i">T</tspan>))</text>
<text x="3562" y="801" class="t40" textLength="158" lengthAdjust="spacingAndGlyphs">for <tspan class="i">α</tspan> = 1 ,</text>
<!-- case 3 -->
<text x="3044" y="858" class="t40" textLength="58" lengthAdjust="spacingAndGlyphs"><tspan class="i">O</tspan>(<tspan class="i">s</tspan></text>
<text x="3103" y="838" style="font-size:27px" textLength="28" lengthAdjust="spacingAndGlyphs">2+</text>
<text x="3133" y="826" style="font-size:19px">2</text>
<path d="M3132 829.5H3145" stroke="#000" stroke-width="1.4"/>
<text x="3133" y="844" class="i" style="font-size:19px">α</text>
<text x="3104" y="867" style="font-size:27px">0</text>
<text x="3152" y="858" class="t40" textLength="79" lengthAdjust="spacingAndGlyphs">log <tspan class="i">d</tspan>)</text>
<text x="3562" y="858" class="t40" textLength="242" lengthAdjust="spacingAndGlyphs">for 1 &lt; <tspan class="i">α</tspan> ≤ ∞ .</text>

<circle cx="2760" cy="954" r="7" fill="#2A6FC9"/>
<text x="2791" y="967" class="t40" textLength="481" lengthAdjust="spacingAndGlyphs"><tspan class="r">Matches lower bound</tspan> of <tspan class="i">O</tspan>(<tspan class="i">T</tspan></text>
<text x="3273" y="942" class="fr" textLength="32" lengthAdjust="spacingAndGlyphs">1−<tspan class="i">α</tspan></text>
<path d="M3272 945.5H3305M3407 945.5H3440" stroke="#000" stroke-width="1.6"/>
<text x="3284" y="961" class="fr">2</text>
<text x="3316" y="967" class="t40" textLength="89" lengthAdjust="spacingAndGlyphs">(log <tspan class="i">d</tspan>)</text>
<text x="3408" y="942" class="fr" textLength="32" lengthAdjust="spacingAndGlyphs"><tspan class="i">α</tspan>+1</text>
<text x="3419" y="961" class="fr">2</text>
<text x="3450" y="967" class="t40" textLength="419" lengthAdjust="spacingAndGlyphs">+ log <tspan class="i">T</tspan>) for <tspan class="i">α</tspan> ∈ (0, 1] in [3]</text>
<circle cx="2760" cy="1013.5" r="7" fill="#2A6FC9"/>
<text x="2791" y="1026.5" class="t40" textLength="829" lengthAdjust="spacingAndGlyphs"><tspan class="r">Mildest condition</tspan> that allows <tspan class="i">O</tspan>(poly log <tspan class="i">dT</tspan>) regret</text>
<circle cx="2760" cy="1074" r="7" fill="#2A6FC9"/>
<text x="2791" y="1087" class="t40" textLength="1113" lengthAdjust="spacingAndGlyphs"><tspan class="r">Expand range of <tspan class="i">α</tspan></tspan> that logarithmic regret is attainable even for</text>
<text x="2793" y="1132" class="t40" textLength="1057" lengthAdjust="spacingAndGlyphs">(<tspan class="i">s</tspan><tspan class="sb">0</tspan> = <tspan class="i">d</tspan>) low-dimensional setting <tspan class="gy">(previously only known for <tspan class="i">α</tspan> &gt; 2)</tspan></text>
<text x="2743" y="1250" class="h" textLength="386.5" lengthAdjust="spacingAndGlyphs">Regret Analysis</text>
<text x="2799.5" y="1330" class="i" style="font-size:36px" textLength="1026.5" lengthAdjust="spacingAndGlyphs">“Sufficient optimal pulls ⇒ Small error ⇒ High chance of optimal choice”</text>
<circle cx="2760" cy="1395" r="7" fill="#2A6FC9"/>
<text x="2793" y="1407" class="t40" textLength="1004" lengthAdjust="spacingAndGlyphs"><tspan class="i">Mathematical induction argument</tspan>: <tspan class="i">P</tspan>(<tspan class="i">n</tspan>) holds ⇒ <tspan class="i">P</tspan>(<tspan class="i">n</tspan> + 1) holds</text>
<text x="2793" y="1466.6" class="t40" textLength="958" lengthAdjust="spacingAndGlyphs"><tspan class="g">[Base case]</tspan> Forced sampling makes <tspan class="i">β̂</tspan><tspan class="sb i">t</tspan>  <tspan class="r">sufficiently accurate</tspan></text>
<text x="2793" y="1527" class="t40" textLength="802.5" lengthAdjust="spacingAndGlyphs">i.e., optimal arms are chosen with <tspan class="r">sufficient ratio</tspan></text>
<text x="2793" y="1586.7" class="t40" textLength="1111" lengthAdjust="spacingAndGlyphs"><tspan class="g">[Induction step]</tspan> Samples obtained by <tspan class="m">FS-WLasso</tspan> results in <tspan class="r">higher</tspan></text>
<text x="2793" y="1631" class="r t40" textLength="827" lengthAdjust="spacingAndGlyphs">probability of choosing optimal arm in next round</text>
<text x="2743" y="1749" class="h" textLength="577" lengthAdjust="spacingAndGlyphs">Numerical Experiments</text>

<!-- PLOT 1 -->
<text x="2875" y="1815" class="pT" textLength="328" lengthAdjust="spacingAndGlyphs">Correlated Gaussian, d = 100, s = 5, K = 20</text>
<g class="pl" transform="translate(2838.3 2136.7) scale(.2013 -1.1776)">
<path stroke="#ff0000" d="M0 0L50 25L100 45L167 63L250 79L333 92L500 117L667 137L833 154L1000 170L1167 185L1333 198L1500 210L1667 221L1833 232L2000 243"/>
<path stroke="#ff0000" d="M333 76V108M300 76H366M300 108H366M667 114V160M634 114H700M634 160H700M1000 142V198M967 142H1033M967 198H1033M1333 167V228M1300 167H1366M1300 228H1366M1667 189V254M1634 189H1700M1634 254H1700"/>
<path stroke="#ff7f0e" d="M0 0L25 7L50 12L100 17L150 19.5L250 22L333 24L667 26L1000 27.5L1333 28.5L1667 29.5L2000 30"/>
<path stroke="#ff7f0e" d="M333 20V31M300 20H366M300 31H366M667 18V34M634 18H700M634 34H700M1000 19V36M967 19H1033M967 36H1033M1333 20V37M1300 20H1366M1300 37H1366M1667 21V38M1634 21H1700M1634 38H1700"/>
<path stroke="#0ab40a" d="M0 0L25 14L50 22L100 32L150 37L200 40L333 44L667 48L1000 49.5L1333 50.5L1667 51L2000 51.5"/>
<path stroke="#0ab40a" d="M333 26V62M300 26H366M300 62H366M667 29V67M634 29H700M634 67H700M1000 30V69M967 30H1033M967 69H1033M1333 31V70M1300 31H1366M1300 70H1366M1667 32V70M1634 32H1700M1634 70H1700"/>
<path stroke="#17c0c0" d="M0 0L25 14L50 22L100 32L150 37L200 41L333 47L500 52L667 56L1000 61L1333 64.5L1667 67L2000 69"/>
<path stroke="#17c0c0" d="M333 37V58M300 37H366M300 58H366M667 45V67M634 45H700M634 67H700M1000 50V72M967 50H1033M967 72H1033M1333 53V76M1300 53H1366M1300 76H1366M1667 56V79M1634 56H1700M1634 79H1700"/>
<path stroke="#4545c0" d="M0 0L150 78L333 84L667 95L1000 106L1333 116L1667 126L2000 137"/>
<path stroke="#4545c0" d="M333 77V91M300 77H366M300 91H366M667 86V104M634 86H700M634 104H700M1000 94V118M967 94H1033M967 118H1033M1333 100V132M1300 100H1366M1300 132H1366M1667 106V147M1634 106H1700M1634 147H1700"/>
<path stroke="#c800a0" d="M0 0L25 6L50 11L100 16L150 18L250 20L333 21L667 23L1000 24L1333 25L1667 25.5L2000 26"/>
<path stroke="#c800a0" d="M333 16V27M300 16H366M300 27H366M667 18V29M634 18H700M634 29H700M1000 19V30M967 19H1033M967 30H1033M1333 20V31M1300 20H1366M1300 31H1366M1667 20V32M1634 20H1700M1634 32H1700"/>
<path stroke="#9467bd" d="M0 0L50 22L100 40L150 50L200 56L333 67L500 76L667 83L1000 94L1333 103L1667 111L2000 119"/>
<path stroke="#9467bd" d="M333 60V73M300 60H366M300 73H366M667 73V93M634 73H700M634 93H700M1000 81V107M967 81H1033M967 107H1033M1333 87V119M1300 87H1366M1300 119H1366M1667 92V131M1634 92H1700M1634 131H1700"/>
</g>
<rect class="ax" x="2819" y="1822" width="442" height="330"/>
<path class="ax" d="M2815 2136.7H2819M2815 2077.8H2819M2815 2018.9H2819M2815 1960H2819M2815 1901.2H2819M2815 1842.3H2819M2838.3 2152V2156M2888.6 2152V2156M2939 2152V2156M2989.3 2152V2156M3039.6 2152V2156M3090 2152V2156M3140.3 2152V2156M3190.6 2152V2156M3241 2152V2156"/>
<g text-anchor="end">
<text class="pt" x="2811" y="2141">0</text><text class="pt" x="2811" y="2082">50</text><text class="pt" x="2811" y="2023">100</text><text class="pt" x="2811" y="1964">150</text><text class="pt" x="2811" y="1905.5">200</text><text class="pt" x="2811" y="1846.5">250</text>
</g>
<g text-anchor="middle">
<text class="pt" x="2838.3" y="2170">0</text><text class="pt" x="2888.6" y="2170">250</text><text class="pt" x="2939" y="2170">500</text><text class="pt" x="2989.3" y="2170">750</text><text class="pt" x="3039.6" y="2170">1000</text><text class="pt" x="3090" y="2170">1250</text><text class="pt" x="3140.3" y="2170">1500</text><text class="pt" x="3190.6" y="2170">1750</text><text class="pt" x="3241" y="2170">2000</text>
<text class="pt" x="3039.6" y="2187">Time</text>
<text class="pt" transform="translate(2779 1987) rotate(-90)">Cumulative Regret</text>
</g>
<rect x="2825" y="1828" width="154" height="131" rx="3" fill="#fff" fill-opacity=".85" stroke="#ccc" stroke-width="1.2"/>
<g fill="none" stroke-width="2.2">
<path stroke="#ff0000" d="M2829.5 1838H2855.5M2842.5 1832V1844M2836.5 1832H2848.5M2836.5 1844H2848.5"/>
<path stroke="#ff7f0e" d="M2829.5 1857H2855.5M2842.5 1851V1863M2836.5 1851H2848.5M2836.5 1863H2848.5"/>
<path stroke="#0ab40a" d="M2829.5 1875H2855.5M2842.5 1869V1881M2836.5 1869H2848.5M2836.5 1881H2848.5"/>
<path stroke="#17c0c0" d="M2829.5 1893H2855.5M2842.5 1887V1899M2836.5 1887H2848.5M2836.5 1899H2848.5"/>
<path stroke="#4545c0" d="M2829.5 1911H2855.5M2842.5 1905V1917M2836.5 1905H2848.5M2836.5 1917H2848.5"/>
<path stroke="#c800a0" d="M2829.5 1929H2855.5M2842.5 1923V1935M2836.5 1923H2848.5M2836.5 1935H2848.5"/>
<path stroke="#9467bd" d="M2829.5 1947H2855.5M2842.5 1941V1953M2836.5 1941H2848.5M2836.5 1953H2848.5"/>
</g>
<text class="pt" x="2864.7" y="1843">DR-Lasso</text><text class="pt" x="2864.7" y="1861">SA-Lasso</text><text class="pt" x="2864.7" y="1879">TH-Lasso</text><text class="pt" x="2864.7" y="1897">L1-CB-Lasso</text><text class="pt" x="2864.7" y="1916">ESTC</text><text class="pt" x="2864.7" y="1934">FS-WLasso (Ours)</text><text class="pt" x="2864.7" y="1952">FS-Lasso (Ours)</text>

<!-- PLOT 2 -->
<text x="3438" y="1815" class="pT" textLength="363" lengthAdjust="spacingAndGlyphs">Fixed Sub-optimal Arms, d = 100, s = 20, K = 10</text>
<g class="pl" transform="translate(3418.3 2136.7) scale(.2013 -.6148)">
<path stroke="#ff0000" d="M0 0L200 80L333 136L667 272L1000 408L1200 487"/>
<path stroke="#ff0000" d="M333 131V141M300 131H366M300 141H366M667 264V280M634 264H700M634 280H700M1000 398V416M967 398H1033M967 416H1033"/>
<path stroke="#ff7f0e" d="M0 0L333 51L667 93L1000 133L1333 170L1667 208L2000 244"/>
<path stroke="#ff7f0e" d="M333 22V80M300 22H366M300 80H366M667 34V154M634 34H700M634 154H700M1000 48V219M967 48H1033M967 219H1033M1333 60V282M1300 60H1366M1300 282H1366M1667 72V344M1634 72H1700M1634 344H1700"/>
<path stroke="#0ab40a" d="M0 0L333 67L667 128L1000 182L1333 233L1667 284L2000 333"/>
<path stroke="#0ab40a" d="M333 25V110M300 25H366M300 110H366M667 52V207M634 52H700M634 207H700M1000 72V292M967 72H1033M967 292H1033M1333 92V375M1300 92H1366M1300 375H1366M1667 115V452M1634 115H1700M1634 452H1700"/>
<path stroke="#17c0c0" d="M0 0L333 50L667 90L1000 130L1333 168L1667 205L2000 240"/>
<path stroke="#17c0c0" d="M333 24V76M300 24H366M300 76H366M667 37V143M634 37H700M634 143H700M1000 52V207M967 52H1033M967 207H1033M1333 65V271M1300 65H1366M1300 271H1366M1667 76V333M1634 76H1700M1634 333H1700"/>
<path stroke="#4545c0" d="M0 0L200 80L333 89L667 115L1000 140L1333 164L1667 188L2000 212"/>
<path stroke="#4545c0" d="M333 82V98M300 82H366M300 98H366M667 93V137M634 93H700M634 137H700M1000 100V179M967 100H1033M967 179H1033M1333 108V222M1300 108H1366M1300 222H1366M1667 116V260M1634 116H1700M1634 260H1700"/>
<path stroke="#c800a0" d="M0 0L200 80L333 90L667 113L1000 134L1333 155L1667 176L2000 196"/>
<path stroke="#c800a0" d="M333 83V97M300 83H366M300 97H366M667 94V132M634 94H700M634 132H700M1000 103V164M967 103H1033M967 164H1033M1333 114V196M1300 114H1366M1300 196H1366M1667 124V227M1634 124H1700M1634 227H1700"/>
<path stroke="#9467bd" d="M0 0L100 40L200 78L333 100L500 120L667 136L1000 163L1333 187L1667 210L2000 230"/>
<path stroke="#9467bd" d="M333 92V108M300 92H366M300 108H366M667 122V150M634 122H700M634 150H700M1000 138V188M967 138H1033M967 188H1033M1333 153V220M1300 153H1366M1300 220H1366M1667 166V254M1634 166H1700M1634 254H1700"/>
</g>
<rect class="ax" x="3398" y="1822" width="443" height="330"/>
<path class="ax" d="M3394 2136.7H3398M3394 2075.2H3398M3394 2013.7H3398M3394 1952.3H3398M3394 1890.8H3398M3394 1829.3H3398M3418.3 2152V2156M3468.6 2152V2156M3519 2152V2156M3569.3 2152V2156M3619.6 2152V2156M3670 2152V2156M3720.3 2152V2156M3770.6 2152V2156M3821 2152V2156"/>
<g text-anchor="end">
<text class="pt" x="3390" y="2141">0</text><text class="pt" x="3390" y="2079.5">100</text><text class="pt" x="3390" y="2018">200</text><text class="pt" x="3390" y="1956.5">300</text><text class="pt" x="3390" y="1895">400</text><text class="pt" x="3390" y="1833.5">500</text>
</g>
<g text-anchor="middle">
<text class="pt" x="3418.3" y="2170">0</text><text class="pt" x="3468.6" y="2170">250</text><text class="pt" x="3519" y="2170">500</text><text class="pt" x="3569.3" y="2170">750</text><text class="pt" x="3619.6" y="2170">1000</text><text class="pt" x="3670" y="2170">1250</text><text class="pt" x="3720.3" y="2170">1500</text><text class="pt" x="3770.6" y="2170">1750</text><text class="pt" x="3821" y="2170">2000</text>
<text class="pt" x="3619.6" y="2187">Time</text>
<text class="pt" transform="translate(3358 1987) rotate(-90)">Cumulative Regret</text>
</g>
<rect x="3404" y="1828" width="154" height="131" rx="3" fill="#fff" fill-opacity=".85" stroke="#ccc" stroke-width="1.2"/>
<g fill="none" stroke-width="2.2">
<path stroke="#ff0000" d="M3408.5 1838H3434.5M3421.5 1832V1844M3415.5 1832H3427.5M3415.5 1844H3427.5"/>
<path stroke="#ff7f0e" d="M3408.5 1857H3434.5M3421.5 1851V1863M3415.5 1851H3427.5M3415.5 1863H3427.5"/>
<path stroke="#0ab40a" d="M3408.5 1875H3434.5M3421.5 1869V1881M3415.5 1869H3427.5M3415.5 1881H3427.5"/>
<path stroke="#17c0c0" d="M3408.5 1893H3434.5M3421.5 1887V1899M3415.5 1887H3427.5M3415.5 1899H3427.5"/>
<path stroke="#4545c0" d="M3408.5 1911H3434.5M3421.5 1905V1917M3415.5 1905H3427.5M3415.5 1917H3427.5"/>
<path stroke="#c800a0" d="M3408.5 1929H3434.5M3421.5 1923V1935M3415.5 1923H3427.5M3415.5 1935H3427.5"/>
<path stroke="#9467bd" d="M3408.5 1947H3434.5M3421.5 1941V1953M3415.5 1941H3427.5M3415.5 1953H3427.5"/>
</g>
<text class="pt" x="3444" y="1843">DR-Lasso</text><text class="pt" x="3444" y="1861">SA-Lasso</text><text class="pt" x="3444" y="1879">TH-Lasso</text><text class="pt" x="3444" y="1897">L1-CB-Lasso</text><text class="pt" x="3444" y="1916">ESTC</text><text class="pt" x="3444" y="1934">FS-WLasso (Ours)</text><text class="pt" x="3444" y="1952">FS-Lasso (Ours)</text>

<circle cx="2760" cy="2271" r="7" fill="#2A6FC9"/>
<text x="2793" y="2284" textLength="935" lengthAdjust="spacingAndGlyphs" class="t40"><tspan class="bl">[Experiment 1]</tspan> Correlated multivariate Gaussian context</text>
<circle cx="2760" cy="2331" r="7" fill="#2A6FC9"/>
<text x="2793" y="2343" textLength="1111" lengthAdjust="spacingAndGlyphs" class="t40"><tspan class="bl">[Experiment 2]</tspan> Context feature vectors of sub-optimal arms are</text>
<text x="2793" y="2388" textLength="681" lengthAdjust="spacingAndGlyphs" class="t40">fixed, and <tspan class="i">only optimal arm has randomness</tspan></text>
<text x="2743" y="2505.6" class="h" textLength="265.5" lengthAdjust="spacingAndGlyphs">References</text>
<text x="2741.5" y="2577" class="ref" textLength="1162.5" lengthAdjust="spacingAndGlyphs">[1] Kaito Ariu, Kenshi Abe, and Alexandre Proutière. Thresholded lasso bandit. In <tspan class="i">International Conference on Machine Learning</tspan>, pages 878–928.</text>
<text x="2768" y="2600.7" class="ref" textLength="104.5" lengthAdjust="spacingAndGlyphs">PMLR, 2022.</text>
<text x="2741.5" y="2622" class="ref" textLength="1162.5" lengthAdjust="spacingAndGlyphs">[2] Sunrit Chakraborty, Saptarshi Roy, and Ambuj Tewari.  Thompson sampling for high-dimensional sparse linear contextual bandits.  In</text>
<text x="2768" y="2644" class="ref" textLength="613.6" lengthAdjust="spacingAndGlyphs"><tspan class="i">International Conference on Machine Learning</tspan>, pages 3979–4008. PMLR, 2023.</text>
<text x="2741.5" y="2668" class="ref" textLength="1162.5" lengthAdjust="spacingAndGlyphs">[3] Ke Li, Yun Yang, and Naveen N Narisetty.  Regret lower bound and optimal algorithm for high-dimensional contextual linear bandit.</text>
<text x="2768" y="2689" class="ref" textLength="419.5" lengthAdjust="spacingAndGlyphs"><tspan class="i">Electronic Journal of Statistics</tspan>, 15(2):5652–5695, 2021.</text>
</svg>
</body></html>
